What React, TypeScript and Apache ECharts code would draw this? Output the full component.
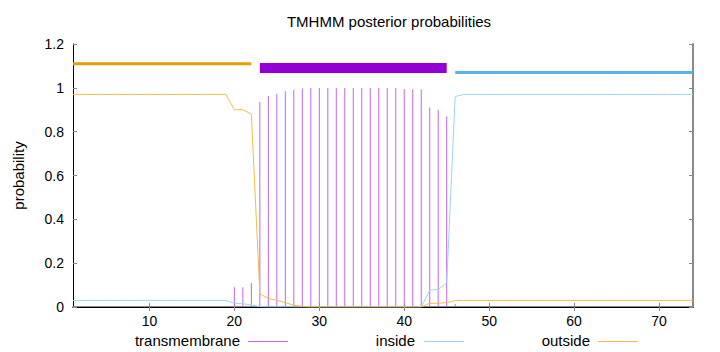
import React, { useEffect, useRef } from "react";
import * as echarts from "echarts";

// positions 1..74
const positions: number[] = Array.from({ length: 74 }, (_, i) => i + 1);

const transmembrane: number[] = [
  0, 0, 0, 0, 0, 0, 0, 0, 0, 0,
  0, 0, 0, 0, 0, 0, 0, 0, 0, 0.09,
  0.09, 0.11, 0.935, 0.963, 0.973, 0.984, 0.991, 0.997, 0.999, 0.999,
  0.999, 0.999, 0.999, 0.999, 0.999, 0.999, 0.999, 0.999, 0.999, 0.995,
  0.994, 0.992, 0.91, 0.9, 0.87, 0.014, 0, 0, 0, 0,
  0, 0, 0, 0, 0, 0, 0, 0, 0, 0,
  0, 0, 0, 0, 0, 0, 0, 0, 0, 0,
  0, 0, 0, 0,
];

const inside: number[] = [
  0.03, 0.03, 0.03, 0.03, 0.03, 0.03, 0.03, 0.03, 0.03, 0.03,
  0.03, 0.03, 0.03, 0.03, 0.03, 0.03, 0.03, 0.03, 0.03, 0.017,
  0.015, 0.009, 0.002, 0, 0, 0, 0, 0, 0, 0,
  0, 0, 0, 0, 0, 0, 0, 0, 0, 0,
  0, 0, 0.077, 0.08, 0.11, 0.96, 0.97, 0.97, 0.97, 0.97,
  0.97, 0.97, 0.97, 0.97, 0.97, 0.97, 0.97, 0.97, 0.97, 0.97,
  0.97, 0.97, 0.97, 0.97, 0.97, 0.97, 0.97, 0.97, 0.97, 0.97,
  0.97, 0.97, 0.97, 0.97,
];

const outside: number[] = [
  0.97, 0.97, 0.97, 0.97, 0.97, 0.97, 0.97, 0.97, 0.97, 0.97,
  0.97, 0.97, 0.97, 0.97, 0.97, 0.97, 0.97, 0.97, 0.97, 0.9,
  0.9, 0.88, 0.06, 0.04, 0.03, 0.02, 0.008, 0.003, 0, 0,
  0, 0, 0, 0, 0, 0, 0, 0, 0, 0,
  0, 0, 0.017, 0.017, 0.02, 0.03, 0.03, 0.03, 0.03, 0.03,
  0.03, 0.03, 0.03, 0.03, 0.03, 0.03, 0.03, 0.03, 0.03, 0.03,
  0.03, 0.03, 0.03, 0.03, 0.03, 0.03, 0.03, 0.03, 0.03, 0.03,
  0.03, 0.03, 0.03, 0.03,
];

// topology segments: [start, end, level]
const outsideSegment: number[] = [1, 22, 1.11];
const tmSegment: number[] = [23, 45, 1.09];
const insideSegment: number[] = [46, 74, 1.07];

const xTicks: number[] = [10, 20, 30, 40, 50, 60, 70];

const FONT = "'Liberation Sans', Arial, sans-serif";
const C_TM = "#9400d3";
const C_TM_THIN = "#c266ec";
const C_IN = "#56b4e9";
const C_IN_THIN = "#9ed5f2";
const C_OUT = "#e69f00";
const C_OUT_THIN = "#f0bd4c";

export default function App() {
  const ref = useRef<HTMLDivElement>(null);
  useEffect(() => {
    if (!ref.current) return;
    const chart = echarts.init(ref.current, null, { renderer: "svg" });
    const pair = (arr: number[]) => positions.map((x, i) => [x, arr[i]]);
    const seg = (s: number[]) => [
      [s[0], s[2]],
      [s[1], s[2]],
    ];
    // legend: text from the legend component, key samples drawn as graphic lines
    const legendItems = [
      { name: "transmembrane", color: C_TM_THIN, right: 435, x1: 248 },
      { name: "inside", color: C_IN_THIN, right: 260, x1: 424 },
      { name: "outside", color: C_OUT_THIN, right: 85, x1: 598 },
    ];
    const mkLegend = (name: string, right: number) => ({
      orient: "horizontal",
      align: "right",
      top: 333,
      right,
      padding: 0,
      itemWidth: 40,
      itemHeight: 1,
      icon: "rect",
      selectedMode: false,
      itemStyle: { opacity: 0, borderWidth: 0 },
      lineStyle: { opacity: 0 },
      textStyle: { fontFamily: FONT, fontSize: 15, color: "#000" },
      data: [name],
    });
    chart.setOption({
      animation: false,
      title: {
        text: "TMHMM posterior probabilities",
        left: 384,
        textAlign: "center",
        top: 9,
        textStyle: { fontFamily: FONT, fontSize: 15, fontWeight: "normal", color: "#000" },
      },
      grid: { left: 73, right: 27, top: 44, bottom: 45, containLabel: false },
      legend: legendItems.map((l) => mkLegend(l.name, l.right)),
      graphic: legendItems.map((l) => ({
        type: "line",
        shape: { x1: l.x1, y1: 341.5, x2: l.x1 + 40, y2: 341.5 },
        style: { stroke: l.color, lineWidth: 1 },
        silent: true,
      })),
      xAxis: [
        {
          type: "value",
          min: 1,
          max: 74,
          position: "bottom",
          axisLine: { show: true, lineStyle: { color: "#8a8a8a", width: 2 } },
          axisTick: { show: true, inside: true, length: 4, customValues: xTicks, lineStyle: { color: "#888" } },
          axisLabel: { show: true, customValues: xTicks, margin: 7, fontFamily: FONT, fontSize: 14, color: "#000" },
          splitLine: { show: false },
        },
        {
          type: "value",
          min: 1,
          max: 74,
          position: "top",
          axisLine: { show: true, lineStyle: { color: "#000", width: 1 } },
          axisTick: { show: true, inside: true, length: 4, customValues: xTicks, lineStyle: { color: "#888" } },
          axisLabel: { show: false },
          splitLine: { show: false },
        },
      ],
      yAxis: [
        {
          type: "value",
          min: 0,
          max: 1.2,
          interval: 0.2,
          position: "left",
          name: "probability",
          nameLocation: "middle",
          nameRotate: 90,
          nameGap: 47,
          nameTextStyle: { fontFamily: FONT, fontSize: 15, color: "#000" },
          axisLine: { show: true, lineStyle: { color: "#000", width: 1 } },
          axisTick: { show: true, inside: true, length: 4, lineStyle: { color: "#888" } },
          axisLabel: { show: true, margin: 9, fontFamily: FONT, fontSize: 14, color: "#000" },
          splitLine: { show: false },
        },
        {
          type: "value",
          min: 0,
          max: 1.2,
          interval: 0.2,
          position: "right",
          axisLine: { show: true, lineStyle: { color: "#8a8a8a", width: 2 } },
          axisTick: { show: true, inside: true, length: 4, lineStyle: { color: "#888" } },
          axisLabel: { show: false },
          splitLine: { show: false },
        },
      ],
      series: [
        {
          name: "transmembrane",
          type: "bar",
          barWidth: 1,
          data: pair(transmembrane),
          itemStyle: { color: C_TM_THIN },
          z: 3,
        },
        {
          name: "inside",
          type: "line",
          data: pair(inside),
          showSymbol: false,
          symbol: "none",
          lineStyle: { color: C_IN_THIN, width: 1 },
          itemStyle: { color: C_IN_THIN },
          z: 4,
        },
        {
          name: "outside",
          type: "line",
          data: pair(outside),
          showSymbol: false,
          symbol: "none",
          lineStyle: { color: C_OUT_THIN, width: 1 },
          itemStyle: { color: C_OUT_THIN },
          z: 4,
        },
        {
          name: "outsideBar",
          type: "line",
          data: seg(outsideSegment),
          symbol: "none",
          lineStyle: { color: C_OUT, width: 3 },
          z: 5,
        },
        {
          name: "tmBar",
          type: "line",
          data: seg(tmSegment),
          symbol: "none",
          lineStyle: { color: C_TM, width: 10 },
          z: 5,
        },
        {
          name: "insideBar",
          type: "line",
          data: seg(insideSegment),
          symbol: "none",
          lineStyle: { color: C_IN, width: 3 },
          z: 5,
        },
      ],
    });
    return () => chart.dispose();
  }, []);
  return <div ref={ref} style={{ width: 720, height: 352, position: "absolute", left: 0, top: 0 }} />;
}
